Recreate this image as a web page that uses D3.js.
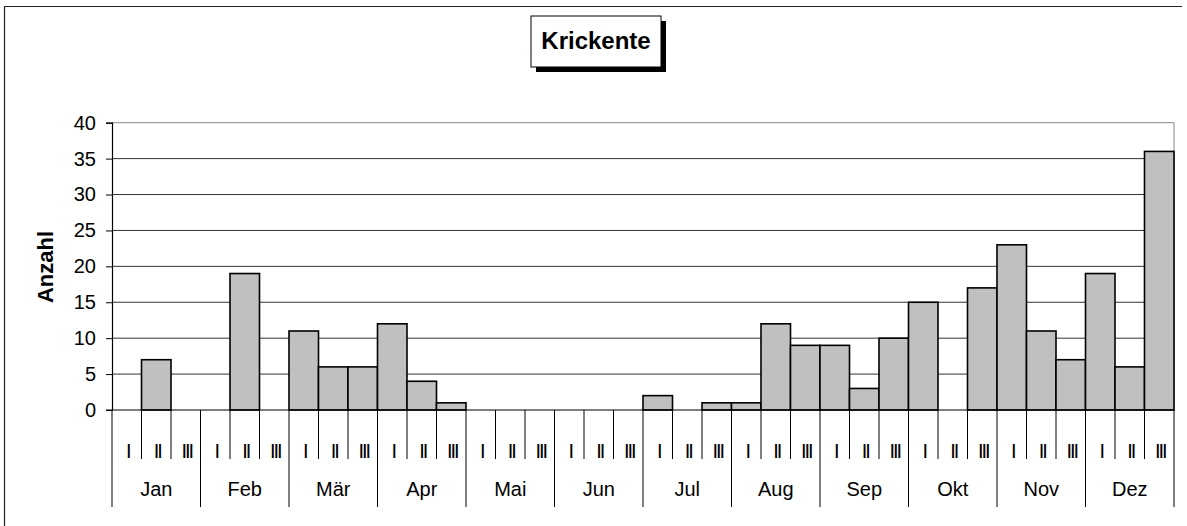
<!DOCTYPE html>
<html><head><meta charset="utf-8">
<script src="https://cdn.jsdelivr.net/npm/d3@7"></script>
<style>
body{margin:0;background:#fff;}
svg{display:block;font-family:"Liberation Sans",Arial,sans-serif;}
</style></head>
<body>
<svg id="c" width="1187" height="526"></svg>
<script>
const months = ["Jan","Feb","Mär","Apr","Mai","Jun","Jul","Aug","Sep","Okt","Nov","Dez"];
const dekads = ["I","II","III"];
const values = [0,7,0, 0,19,0, 11,6,6, 12,4,1, 0,0,0, 0,0,0, 2,0,1, 1,12,9, 9,3,10, 15,0,17, 23,11,7, 19,6,36];
const yTicks = [0,5,10,15,20,25,30,35,40];
const title = "Krickente";
const yLabel = "Anzahl";

const svg = d3.select("#c");
const L = 112, R = 1174, T = 122.7, B = 410;

const slots = [];
months.forEach((m,mi)=>dekads.forEach((d,di)=>slots.push({m,d,mi,di,v:values[mi*3+di],key:mi+"-"+di})));

const x = d3.scaleBand().domain(slots.map(s=>s.key)).range([L,R]).padding(0);
const y = d3.scaleLinear().domain([0,40]).range([B,T]);

// outer frame (left & top)
svg.append("line").attr("x1",4.5).attr("x2",4.5).attr("y1",6.5).attr("y2",526).attr("stroke","#222").attr("stroke-width",1.2);
svg.append("line").attr("x1",4).attr("x2",1182).attr("y1",6.5).attr("y2",6.5).attr("stroke","#222").attr("stroke-width",1.2);

// gridlines
yTicks.filter(t=>t>0).forEach(t=>{
  svg.append("line").attr("x1",L).attr("x2",R).attr("y1",y(t)).attr("y2",y(t))
    .attr("stroke", t===40 ? "#888" : "#333").attr("stroke-width",1);
});
// plot border right
svg.append("line").attr("x1",R).attr("x2",R).attr("y1",T).attr("y2",B).attr("stroke","#888").attr("stroke-width",1);

// y axis
const yAxis = d3.axisLeft(y).tickValues(yTicks).tickSize(6).tickPadding(10);
const ga = svg.append("g").attr("transform",`translate(${L},0)`).call(yAxis);
ga.select(".domain").attr("stroke","#000").attr("stroke-width",1.2);
ga.selectAll(".tick line").attr("stroke","#000");
ga.selectAll(".tick text").attr("font-size",20).attr("fill","#000").attr("font-family","Liberation Sans, Arial, sans-serif");

// bars
svg.append("g").selectAll("rect").data(slots.filter(s=>s.v>0)).join("rect")
  .attr("x",s=>x(s.key)).attr("width",x.bandwidth())
  .attr("y",s=>y(s.v)).attr("height",s=>y(0)-y(s.v))
  .attr("fill","#c0c0c0").attr("stroke","#000").attr("stroke-width",1.6);

// x axis baseline
svg.append("line").attr("x1",106).attr("x2",R).attr("y1",B).attr("y2",B).attr("stroke","#000").attr("stroke-width",1.2);

// dividers
const bounds = d3.range(37);
svg.append("g").selectAll("line").data(bounds).join("line")
  .attr("x1",i=> i<36 ? x(slots[i].key) : R).attr("x2",i=> i<36 ? x(slots[i].key) : R)
  .attr("y1",B).attr("y2",i=> i%3===0 ? 507 : 459)
  .attr("stroke","#000").attr("stroke-width",1);

// dekad labels
svg.append("g").selectAll("text").data(slots).join("text")
  .attr("x",s=>x(s.key)+x.bandwidth()/2 + 1).attr("y",457.5)
  .attr("text-anchor","middle").attr("font-size",20).attr("letter-spacing",-2).attr("fill","#000")
  .text(s=>s.d);

// month labels
svg.append("g").selectAll("text").data(months).join("text")
  .attr("x",(m,i)=>x(i+"-1")+x.bandwidth()/2).attr("y",496)
  .attr("text-anchor","middle").attr("font-size",20).attr("fill","#000")
  .text(m=>m);

// y label
svg.append("text").attr("transform","translate(53,267) rotate(-90)")
  .attr("text-anchor","middle").attr("font-size",22).attr("font-weight","bold").text(yLabel);

// title box with shadow
svg.append("rect").attr("x",536).attr("y",21).attr("width",130).attr("height",51).attr("fill","#000");
svg.append("rect").attr("x",531).attr("y",16).attr("width",130).attr("height",51).attr("fill","#fff").attr("stroke","#000").attr("stroke-width",1);
svg.append("text").attr("x",596).attr("y",48.5).attr("text-anchor","middle").attr("font-size",24).attr("font-weight","bold").text(title);
</script>
</body></html>
